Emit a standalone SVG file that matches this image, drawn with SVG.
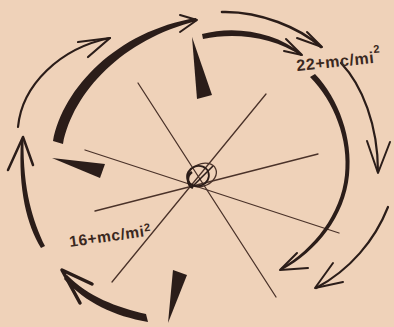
<svg xmlns="http://www.w3.org/2000/svg" width="394" height="327" viewBox="0 0 394 327">
<defs>
<style>
.ray{stroke:#4a3229;stroke-width:1.3;fill:none;stroke-linecap:round}
.arc{stroke:#2b1d19;fill:none;stroke-linecap:round;stroke-linejoin:round}
.fill{fill:#2b1d19;stroke:none}
.lbl{font-family:"Liberation Sans",Arial,sans-serif;font-weight:bold;fill:#3a2820;letter-spacing:0.6px}
</style>
</defs>
<rect width="394" height="327" fill="#efd2b9"/>
<g id="rays">
<line class="ray" x1="138" y1="83" x2="276" y2="297"/>
<line class="ray" x1="266" y1="94" x2="112" y2="282"/>
<line class="ray" x1="318" y1="154" x2="95" y2="211"/>
<line class="ray" x1="85" y1="150" x2="339" y2="233"/>
</g>
<g id="center">
<ellipse cx="202" cy="175" rx="15" ry="11" transform="rotate(-25 202 175)" fill="none" stroke="#4a3229" stroke-width="1.3"/>
<ellipse cx="198" cy="176" rx="11" ry="10" transform="rotate(-20 198 176)" fill="none" stroke="#2b1d19" stroke-width="1.8"/>
<path d="M192,187 L213,166" stroke="#2b1d19" stroke-width="1.6" fill="none"/>
<path d="M192,172 C186,176 187,185 193,188" stroke="#2b1d19" stroke-width="2.5" fill="none"/>
</g>
<g id="wedges">
<polygon class="fill" points="192,37 197,99 212,95"/>
<polygon class="fill" points="52,158 105,164 100,178"/>
<polygon class="fill" points="173,270 187,275 168,323"/>
</g>
<g id="connectors">
<path class="fill" d="M53,141 C63,88 117,31 196,18 L197,21 C123,39 73,92 63,144 Z"/>
<path class="arc" stroke-width="2" d="M180,15 L197,20 L180,32"/>
<path class="arc" stroke-width="2.2" d="M18,127 C22,85 60,48 110,38"/>
<path class="arc" stroke-width="2.2" d="M78,42 L110,38 L88,57"/>
<path class="fill" d="M41,248 C27,225 18,190 21,140 L23.5,140 C23,190 33,222 45,246 Z"/>
<path class="arc" stroke-width="2.5" d="M8,170 L23,137 L33,165"/>
<path class="fill" d="M67,275 C89,297 116,307 146,314 L148,322 C114,316 86,303 64,279 Z"/>
<path class="arc" stroke-width="3.5" d="M92,284 L62,270 L80,303"/>
<path class="arc" stroke-width="2.6" d="M222,12 C260,11 300,28 321,47"/>
<path class="arc" stroke-width="2" d="M307,32 L322,47 L297,38"/>
<path class="fill" d="M202,34 C235,25 276,32 302,54 L301,56 C275,37 235,32 203,39 Z"/>
<path class="arc" stroke-width="2" d="M286,39 L302,55 L284,51"/>
<path class="fill" d="M310,77 C334,101 349,140 345,175 C341,214 314,249 281,268 L282,270 C317,251 345,216 349,175 C353,139 339,99 315,74 Z"/>
<path class="arc" stroke-width="2" d="M297,253 L280,270 L308,268"/>
<path class="arc" stroke-width="2.2" d="M341,63 C362,85 378,125 378,172"/>
<path class="arc" stroke-width="2" d="M367,141 L378,173 L390,142"/>
<path class="arc" stroke-width="2.2" d="M388,207 C375,240 350,270 316,288"/>
<path class="arc" stroke-width="2" d="M333,263 L315,288 L343,282"/>
</g>
<g id="label-22">
<text class="lbl" font-size="16" x="297" y="71" transform="rotate(-6 297 71)">22+mc/mi<tspan font-size="11" dy="-10">2</tspan></text>
</g>
<g id="label-16">
<text class="lbl" font-size="15.5" x="70" y="247" transform="rotate(-8 70 247)">16+mc/mi<tspan font-size="11" dy="-5">2</tspan></text>
</g>
</svg>
